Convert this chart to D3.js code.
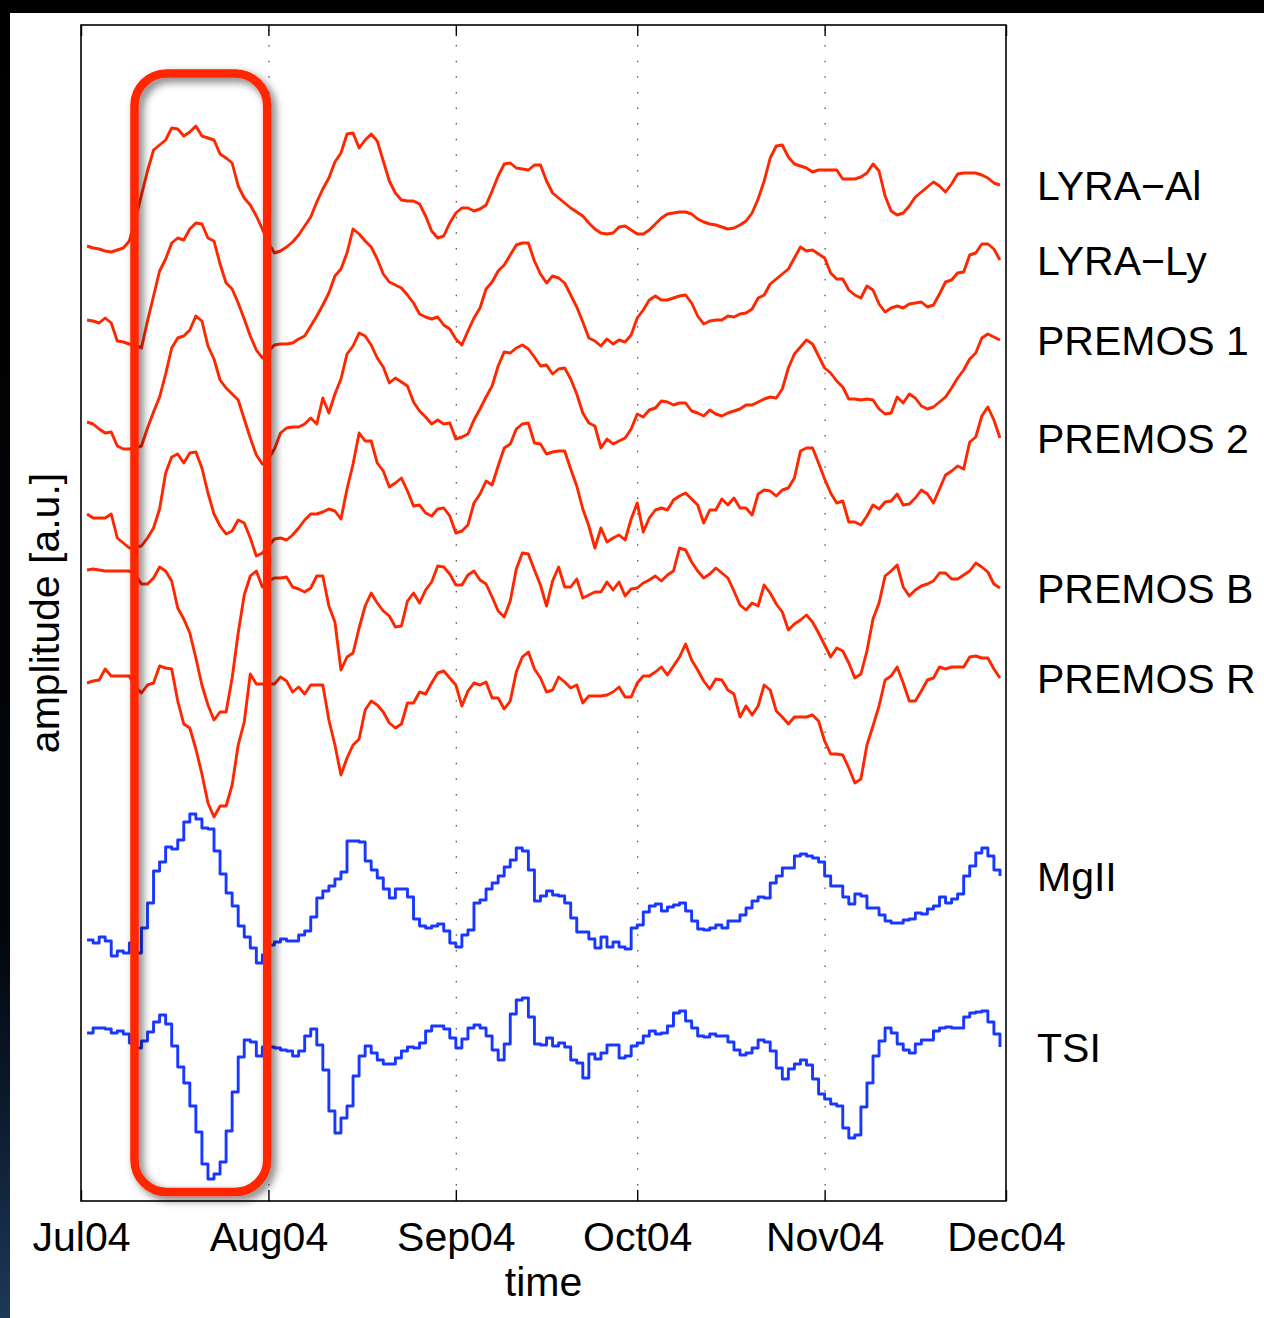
<!DOCTYPE html>
<html>
<head>
<meta charset="utf-8">
<script src="https://cdn.jsdelivr.net/npm/d3@7"></script>
<style>
  html, body { margin: 0; padding: 0; background: #fff; }
  svg { display: block; }
</style>
</head>
<body>
<svg id="chart" width="1264" height="1318"></svg>
<script>
// ---- data: daily samples starting 2 Jul 2004 (day offset 1 from 1 Jul) ----
const firstDay = 1;

const lyraAl = [
  95.5, 95.3, 95.2, 95.0, 94.9, 95.1, 95.3, 96.0, 98.2, 100.6,
  103.0, 105.1, 105.6, 106.1, 107.3, 107.2, 106.5, 106.9, 107.5, 106.5,
  106.3, 106.1, 104.7, 104.3, 103.8, 101.5, 100.3, 99.6, 98.5, 97.2,
  95.8, 94.8, 95.0, 95.4, 95.9, 96.6, 97.5, 98.4, 99.9, 101.2,
  102.3, 103.9, 104.8, 106.7, 106.8, 105.3, 106.1, 106.7, 106.0, 104.0,
  102.0, 100.8, 100.1, 100.0, 100.0, 99.7, 98.5, 97.0, 96.3, 96.5,
  97.8, 98.8, 99.3, 99.3, 99.0, 99.2, 99.6, 101.0, 102.5, 103.7,
  103.8, 103.3, 103.2, 103.1, 103.6, 103.6, 102.0, 100.8, 100.3, 99.8,
  99.3, 98.9, 98.5, 97.8, 97.2, 96.8, 96.7, 96.8, 97.4, 97.5,
  97.1, 96.7, 96.7, 97.1, 97.7, 98.3, 98.7, 98.8, 98.9, 98.9,
  98.7, 98.2, 97.9, 97.7, 97.6, 97.4, 97.2, 97.3, 97.6, 98.0,
  98.8, 100.2, 102.0, 104.3, 105.5, 105.6, 104.4, 103.7, 103.5, 103.3,
  102.9, 103.1, 103.1, 103.1, 103.1, 102.2, 102.2, 102.2, 102.4, 102.8,
  103.7, 103.0, 100.5, 99.0, 98.6, 98.8, 99.5, 100.4, 100.9, 101.4,
  101.9, 101.5, 100.9, 101.7, 102.7, 102.8, 102.8, 102.8, 102.6, 102.3,
  101.8, 101.6
];

const lyraLy = [
  88.1, 88.0, 87.8, 88.3, 87.8, 86.0, 85.9, 85.7, 85.6, 85.3,
  88.0, 90.5, 93.0, 94.2, 95.8, 96.3, 96.1, 97.2, 97.8, 97.7,
  96.3, 96.0, 93.7, 91.8, 91.2, 89.8, 88.2, 86.5, 85.1, 84.3,
  85.0, 85.6, 85.7, 85.7, 85.8, 86.2, 86.5, 87.5, 88.5, 89.6,
  90.8, 92.5, 93.2, 94.8, 97.2, 96.7, 96.0, 95.4, 94.2, 92.7,
  91.9, 91.6, 91.3, 90.6, 89.8, 88.7, 88.4, 88.2, 88.4, 87.6,
  87.2, 86.2, 85.6, 87.0, 88.3, 89.3, 91.2, 91.9, 93.0, 93.6,
  94.6, 95.6, 95.8, 95.8, 94.0, 92.7, 91.8, 92.5, 92.3, 91.8,
  90.6, 89.4, 87.9, 86.3, 86.0, 85.5, 86.2, 85.7, 86.1, 85.9,
  86.6, 88.3, 89.1, 90.1, 90.5, 90.1, 90.1, 90.3, 90.5, 90.6,
  89.8, 88.5, 87.7, 88.0, 88.1, 88.1, 88.5, 88.4, 88.7, 88.8,
  89.2, 90.3, 90.6, 91.7, 92.2, 92.7, 93.2, 94.3, 95.4, 95.0,
  95.1, 94.7, 94.3, 92.8, 92.2, 92.2, 91.1, 90.6, 90.3, 91.5,
  91.1, 89.7, 88.9, 89.3, 89.5, 89.3, 89.7, 89.8, 89.9, 89.4,
  89.6, 90.7, 91.9, 92.1, 92.8, 92.9, 94.6, 94.8, 95.7, 95.7,
  95.2, 94.1
];

const premos1 = [
  77.9, 77.7, 77.2, 76.8, 76.9, 75.5, 75.2, 75.2, 75.3, 75.5,
  77.3, 78.9, 80.4, 82.7, 85.3, 86.3, 86.5, 87.1, 88.5, 88.0,
  85.5, 84.2, 82.1, 81.3, 80.7, 80.1, 78.2, 76.3, 74.6, 73.7,
  74.2, 75.2, 76.8, 77.3, 77.4, 77.4, 77.7, 78.3, 77.7, 80.3,
  78.8, 80.7, 82.2, 84.7, 85.5, 86.8, 86.5, 85.6, 84.3, 83.4,
  81.8, 82.3, 81.9, 81.5, 79.9, 79.0, 78.4, 77.7, 78.1, 77.7,
  77.8, 76.2, 76.4, 76.7, 78.1, 79.2, 80.4, 81.5, 83.5, 84.9,
  84.8, 85.3, 85.6, 85.2, 84.4, 83.5, 83.6, 82.7, 83.2, 83.3,
  82.2, 80.7, 78.8, 77.8, 77.5, 75.3, 76.2, 75.7, 76.0, 76.3,
  77.2, 78.7, 78.4, 79.1, 79.3, 80.0, 79.9, 79.6, 79.8, 79.8,
  79.0, 78.8, 78.5, 79.1, 78.7, 78.5, 78.8, 79.0, 79.2, 79.6,
  79.6, 79.9, 80.2, 80.4, 80.3, 81.2, 83.3, 84.7, 85.4, 86.1,
  85.7, 84.5, 83.3, 82.8, 82.0, 81.4, 80.2, 80.2, 80.1, 80.2,
  80.1, 79.2, 78.7, 78.8, 80.4, 79.8, 80.7, 80.3, 79.5, 79.2,
  79.4, 79.9, 80.4, 81.3, 82.3, 83.1, 84.2, 84.8, 86.3, 86.7,
  86.4, 86.1
];

const premos2 = [
  68.7, 68.3, 68.3, 68.3, 68.7, 66.3, 65.8, 65.3, 65.4, 65.5,
  66.3, 67.3, 69.2, 72.8, 74.4, 74.7, 73.8, 74.8, 74.9, 73.3,
  70.8, 68.7, 67.5, 66.7, 67.0, 68.1, 67.8, 66.3, 64.5, 64.8,
  65.5, 66.2, 66.3, 66.1, 66.6, 67.3, 68.1, 68.7, 68.7, 68.9,
  69.2, 69.0, 68.2, 71.2, 73.7, 76.8, 76.0, 76.0, 73.8, 73.0,
  71.4, 71.8, 72.3, 71.0, 69.5, 69.6, 68.8, 68.5, 69.2, 69.3,
  68.5, 66.8, 67.0, 67.6, 69.8, 70.7, 72.0, 71.6, 73.5, 75.3,
  75.7, 77.2, 77.7, 77.8, 75.8, 75.7, 74.7, 74.9, 75.0, 75.0,
  73.2, 71.5, 69.2, 67.5, 65.3, 67.3, 65.9, 66.3, 66.6, 66.1,
  68.2, 69.8, 66.9, 68.3, 69.1, 69.3, 69.1, 70.1, 70.5, 70.8,
  70.2, 69.6, 67.8, 69.1, 69.1, 70.2, 69.6, 70.3, 69.3, 69.3,
  68.6, 70.7, 71.1, 71.0, 70.5, 71.1, 71.3, 72.3, 75.0, 75.3,
  75.3, 73.8, 72.2, 70.8, 69.8, 70.0, 67.9, 67.9, 67.6, 68.5,
  69.6, 69.2, 69.9, 70.0, 70.7, 69.6, 69.7, 70.3, 71.1, 70.7,
  69.8, 71.2, 72.6, 73.0, 73.5, 73.2, 75.9, 76.4, 78.5, 79.4,
  78.1, 76.3
];

const premosB = [
  63.1, 63.2, 63.1, 63.0, 63.0, 63.0, 63.0, 63.0, 62.6, 61.7,
  61.7, 62.3, 63.4, 63.0, 62.0, 59.3, 58.2, 56.8, 54.3, 51.6,
  49.6, 48.1, 48.9, 48.9, 52.3, 56.8, 60.6, 62.5, 63.0, 61.4,
  62.0, 62.3, 62.3, 62.4, 61.4, 61.2, 60.9, 61.3, 62.5, 62.5,
  59.5, 57.9, 53.1, 54.4, 54.8, 57.3, 59.5, 60.8, 59.8, 59.0,
  58.5, 57.4, 57.5, 60.0, 60.8, 59.8, 61.1, 61.9, 63.5, 63.4,
  62.7, 61.6, 61.6, 62.6, 63.0, 62.1, 61.7, 60.4, 59.0, 58.4,
  60.0, 63.2, 64.8, 64.7, 63.1, 61.6, 59.5, 62.0, 63.4, 61.4,
  61.4, 62.2, 60.3, 60.6, 60.9, 60.9, 61.9, 61.1, 61.9, 60.5,
  61.2, 61.3, 61.8, 62.1, 62.5, 62.0, 62.6, 63.0, 65.3, 65.1,
  63.9, 63.0, 62.3, 62.7, 63.3, 62.8, 62.3, 61.0, 59.6, 59.1,
  59.8, 59.5, 61.6, 60.8, 59.7, 58.9, 57.1, 57.7, 58.1, 58.6,
  57.9, 56.8, 55.6, 54.4, 55.3, 55.0, 53.8, 52.3, 52.7, 55.0,
  58.2, 59.8, 62.5, 63.0, 63.6, 61.4, 60.5, 61.1, 61.5, 61.7,
  62.0, 62.8, 62.8, 62.2, 62.2, 62.6, 63.0, 63.8, 63.4, 62.9,
  61.7, 61.3
];

const premosR = [
  51.8, 52.0, 52.1, 53.2, 52.5, 52.5, 52.5, 52.5, 51.4, 50.8,
  51.6, 51.8, 53.5, 53.3, 53.2, 50.0, 47.7, 47.3, 45.2, 42.7,
  39.8, 38.4, 39.5, 39.5, 41.6, 45.6, 47.9, 52.7, 51.7, 51.7,
  51.7, 51.7, 52.4, 52.0, 50.9, 51.4, 50.7, 51.6, 51.6, 51.6,
  48.1, 45.6, 42.6, 44.3, 45.6, 46.2, 49.1, 50.0, 49.6, 48.9,
  47.8, 47.3, 47.7, 49.8, 49.8, 50.9, 50.7, 51.8, 52.8, 53.0,
  52.3, 51.6, 49.5, 51.0, 51.8, 51.6, 51.9, 50.3, 50.3, 49.2,
  50.0, 52.9, 54.4, 54.9, 53.2, 52.3, 50.9, 51.1, 52.4, 51.9,
  51.3, 51.6, 49.8, 50.5, 50.5, 50.5, 50.6, 50.9, 51.4, 50.4,
  50.4, 51.8, 52.5, 52.5, 52.9, 53.4, 52.6, 53.5, 54.4, 55.7,
  54.1, 53.1, 52.0, 51.2, 52.2, 52.1, 51.1, 50.7, 48.4, 49.5,
  48.6, 49.5, 51.6, 51.1, 49.0, 48.4, 47.7, 48.4, 48.4, 48.4,
  48.6, 48.0, 46.0, 44.7, 44.7, 44.6, 43.3, 41.8, 42.2, 45.6,
  47.5, 49.5, 52.1, 52.5, 53.4, 51.8, 50.0, 50.0, 51.0, 52.1,
  52.3, 53.4, 53.2, 53.4, 53.4, 53.4, 54.4, 54.5, 54.3, 54.3,
  53.2, 52.3
];

const mgII = [
  26.1, 25.8, 26.4, 26.0, 24.5, 25.0, 24.8, 25.8, 24.8, 27.3,
  29.8, 33.0, 33.9, 35.4, 35.2, 36.1, 37.9, 38.7, 38.2, 37.3,
  37.2, 35.0, 32.7, 30.8, 29.5, 27.5, 26.4, 25.3, 23.8, 24.6,
  25.6, 25.9, 26.2, 26.0, 26.0, 26.6, 27.0, 28.4, 30.3, 31.0,
  31.5, 32.2, 32.9, 36.0, 36.0, 35.9, 34.0, 33.1, 32.3, 31.2,
  30.3, 31.2, 31.2, 30.4, 28.2, 27.5, 27.3, 27.5, 27.7, 27.0,
  25.8, 25.4, 26.6, 27.1, 29.8, 30.1, 31.2, 31.8, 32.5, 33.4,
  34.1, 35.3, 35.0, 33.1, 30.0, 30.5, 31.0, 30.6, 30.5, 29.8,
  28.3, 26.9, 26.9, 26.2, 25.3, 26.4, 25.4, 25.9, 25.4, 25.2,
  27.3, 27.6, 28.9, 29.5, 29.7, 29.0, 29.4, 29.6, 29.8, 29.0,
  28.0, 27.2, 27.1, 27.3, 27.6, 27.3, 28.0, 28.0, 28.6, 29.3,
  30.0, 30.4, 30.3, 31.8, 32.5, 33.3, 33.3, 34.5, 34.7, 34.5,
  34.3, 33.9, 32.5, 31.5, 31.5, 30.4, 29.7, 30.7, 30.5, 29.3,
  29.3, 28.6, 28.0, 27.8, 27.8, 28.1, 28.2, 28.8, 28.7, 29.2,
  29.5, 30.4, 29.8, 30.2, 30.7, 32.5, 33.5, 34.8, 35.3, 34.5,
  33.1, 32.5
];

const tsi = [
  16.8, 17.3, 17.3, 17.2, 16.8, 17.0, 16.7, 15.8, 15.3, 16.0,
  16.9, 17.9, 18.6, 17.7, 15.5, 13.4, 11.8, 9.5, 6.9, 3.7,
  2.2, 2.7, 3.9, 7.0, 10.9, 14.4, 16.1, 15.9, 14.5, 15.4,
  15.4, 15.3, 15.1, 15.0, 14.5, 15.0, 16.5, 17.2, 15.6, 13.1,
  9.0, 6.8, 8.3, 9.5, 12.5, 14.5, 15.5, 14.8, 14.1, 13.7,
  13.7, 14.3, 15.0, 15.4, 15.3, 15.8, 17.0, 17.5, 17.5, 17.2,
  16.3, 15.3, 16.2, 17.3, 17.6, 17.3, 16.5, 15.1, 14.1, 15.7,
  18.7, 20.1, 20.3, 18.4, 15.7, 15.6, 16.3, 15.5, 15.8, 15.4,
  14.1, 13.8, 12.3, 14.7, 14.2, 14.8, 15.6, 15.6, 14.3, 14.5,
  15.5, 15.8, 16.5, 17.0, 16.7, 16.8, 17.5, 18.8, 19.0, 18.0,
  17.3, 16.5, 16.4, 16.7, 16.5, 16.5, 15.9, 15.1, 14.6, 14.8,
  15.3, 16.1, 15.9, 15.0, 13.3, 12.2, 13.2, 13.7, 14.1, 13.6,
  12.2, 10.7, 10.2, 9.7, 9.5, 7.3, 6.3, 6.6, 9.4, 11.8,
  14.5, 16.0, 17.3, 16.8, 15.7, 15.1, 14.8, 15.7, 16.1, 16.1,
  17.0, 17.3, 17.4, 17.3, 17.3, 18.4, 18.8, 18.9, 19.0, 17.9,
  16.7, 15.4
];

const seriesNames  = ["LYRA\u2212Al", "LYRA\u2212Ly", "PREMOS 1", "PREMOS 2", "PREMOS B", "PREMOS R", "MgII", "TSI"];
const seriesValues = [lyraAl, lyraLy, premos1, premos2, premosB, premosR, mgII, tsi];
const seriesStairs = [false, false, false, false, false, false, true, true];

const monthLabels = ["Jul04", "Aug04", "Sep04", "Oct04", "Nov04", "Dec04"];

// highlighted interval (days after 1 Jul) and its vertical extent in a.u.
const highlightDays = [8.85, 30.8];
const highlightAmp  = [0.9, 112.75];

// ---- layout ----
const W = 1264, H = 1318;
const plot = { left: 81, right: 1006, top: 25, bottom: 1201 };
const RED = "#ff2600", BLUE = "#1838ff";
const FONT = "'Liberation Sans', Arial, Helvetica, sans-serif";
const FS = 41;

const svg = d3.select("#chart");

const t0 = new Date(Date.UTC(2004, 6, 1));
const t1 = new Date(Date.UTC(2004, 11, 1));
const dayToDate = d => new Date(t0.getTime() + d * 864e5);
const monthTicks = d3.utcMonth.range(t0, d3.utcDay.offset(t1, 1));

const x = d3.scaleUtc().domain([t0, t1]).range([plot.left, plot.right]);
const y = d3.scaleLinear().domain([0, 117.6]).range([plot.bottom, plot.top]);

// defs: shadow for the highlight frame, dark edge gradient
const defs = svg.append("defs");
const f = defs.append("filter").attr("id", "frameShadow")
  .attr("x", "-30%").attr("y", "-5%").attr("width", "160%").attr("height", "110%");
f.append("feDropShadow").attr("dx", 4).attr("dy", 4).attr("stdDeviation", 4.5)
  .attr("flood-color", "#000").attr("flood-opacity", 0.55);

const g = defs.append("linearGradient").attr("id", "edgeGrad")
  .attr("x1", 0).attr("y1", 0).attr("x2", 0).attr("y2", 1);
g.append("stop").attr("offset", "0%").attr("stop-color", "#000");
g.append("stop").attr("offset", "70%").attr("stop-color", "#02050a");
g.append("stop").attr("offset", "85%").attr("stop-color", "#0d1c30");
g.append("stop").attr("offset", "100%").attr("stop-color", "#1d3858");

svg.append("rect").attr("width", W).attr("height", H).attr("fill", "#fff");
svg.append("rect").attr("x", 0).attr("y", 0).attr("width", W).attr("height", 13).attr("fill", "#000");
svg.append("rect").attr("x", 0).attr("y", 0).attr("width", 10).attr("height", H).attr("fill", "url(#edgeGrad)");

// dotted month grid
svg.append("g")
  .attr("transform", `translate(0,${plot.bottom})`)
  .call(d3.axisBottom(x).tickValues(monthTicks.slice(1, -1))
        .tickSize(-(plot.bottom - plot.top)).tickFormat(""))
  .call(a => a.select(".domain").remove())
  .call(a => a.selectAll("line").attr("stroke", "#555").attr("stroke-width", 1.3)
        .attr("stroke-dasharray", "1.5,14.1"));

// series
seriesValues.forEach((vals, k) => {
  const line = d3.line()
    .x((v, i) => x(dayToDate(firstDay + i)))
    .y(v => y(v))
    .curve(seriesStairs[k] ? d3.curveStepAfter : d3.curveLinear);
  svg.append("path")
    .attr("d", line(vals))
    .attr("fill", "none")
    .attr("stroke", seriesStairs[k] ? BLUE : RED)
    .attr("stroke-width", 2.9)
    .attr("stroke-linejoin", "round");
});

// axes box with inward ticks at top and bottom
svg.append("rect")
  .attr("x", plot.left).attr("y", plot.top)
  .attr("width", plot.right - plot.left).attr("height", plot.bottom - plot.top)
  .attr("fill", "none").attr("stroke", "#000").attr("stroke-width", 1.6);

const fmt = (d, i) => monthLabels[i];
svg.append("g")
  .attr("transform", `translate(0,${plot.bottom})`)
  .call(d3.axisBottom(x).tickValues(monthTicks).tickSize(-11).tickPadding(21).tickFormat(fmt))
  .call(a => a.select(".domain").remove())
  .call(a => a.selectAll("line").attr("stroke", "#000").attr("stroke-width", 1.4))
  .call(a => a.selectAll("text").attr("font-family", FONT).attr("font-size", FS).attr("fill", "#000"));

svg.append("g")
  .attr("transform", `translate(0,${plot.top})`)
  .call(d3.axisTop(x).tickValues(monthTicks).tickSize(-11).tickFormat(""))
  .call(a => a.select(".domain").remove())
  .call(a => a.selectAll("line").attr("stroke", "#000").attr("stroke-width", 1.4));

// axis titles
svg.append("text")
  .attr("x", (plot.left + plot.right) / 2).attr("y", 1296)
  .attr("text-anchor", "middle")
  .attr("font-family", FONT).attr("font-size", FS).attr("fill", "#000")
  .text("time");

svg.append("text")
  .attr("transform", `translate(59,${(plot.top + plot.bottom) / 2}) rotate(-90)`)
  .attr("text-anchor", "middle")
  .attr("font-family", FONT).attr("font-size", FS).attr("fill", "#000")
  .text("amplitude [a.u.]");

// series names beside the last sample of each trace
seriesValues.forEach((vals, k) => {
  svg.append("text")
    .attr("x", 1037)
    .attr("y", y(vals[vals.length - 1]) + 15)
    .attr("font-family", FONT).attr("font-size", FS).attr("fill", "#000")
    .text(seriesNames[k]);
});

// highlighted interval
const hx0 = x(dayToDate(highlightDays[0])), hx1 = x(dayToDate(highlightDays[1]));
const hy0 = y(highlightAmp[1]), hy1 = y(highlightAmp[0]);
svg.append("rect")
  .attr("x", hx0).attr("y", hy0)
  .attr("width", hx1 - hx0).attr("height", hy1 - hy0)
  .attr("rx", 32).attr("ry", 32)
  .attr("fill", "none")
  .attr("stroke", RED).attr("stroke-width", 8.5)
  .attr("filter", "url(#frameShadow)");
</script>
</body>
</html>
